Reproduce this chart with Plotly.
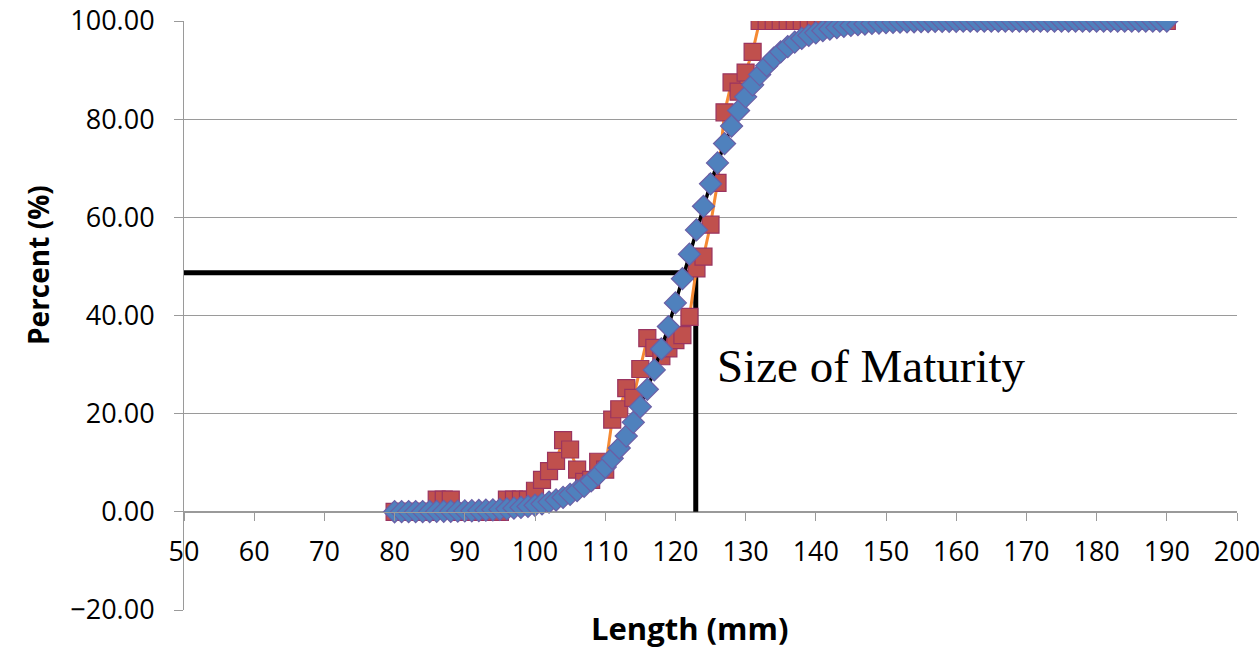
import plotly.graph_objects as go

# Length classes (mm)
lengths = [80, 81, 82, 83, 84, 85, 86, 87, 88, 89,
           90, 91, 92, 93, 94, 95, 96, 97, 98, 99,
           100, 101, 102, 103, 104, 105, 106, 107, 108, 109,
           110, 111, 112, 113, 114, 115, 116, 117, 118, 119,
           120, 121, 122, 123, 124, 125, 126, 127, 128, 129,
           130, 131, 132, 133, 134, 135, 136, 137, 138, 139,
           140, 141, 142, 143, 144, 145, 146, 147, 148, 149,
           150, 151, 152, 153, 154, 155, 156, 157, 158, 159,
           160, 161, 162, 163, 164, 165, 166, 167, 168, 169,
           170, 171, 172, 173, 174, 175, 176, 177, 178, 179,
           180, 181, 182, 183, 184, 185, 186, 187, 188, 189, 190]

# Observed percent mature (red squares)
observed_pct = [0, 0, 0, 0, 0, 0, 2.5, 2.5, 2.5, 0,
                0, 0, 0, 0, 0, 0, 2.5, 2.5, 2.5, 2.5,
                4.3, 6.5, 8.3, 10.4, 14.6, 12.7, 8.6, 6.1, 6.5, 10.2,
                8.6, 18.8, 20.9, 25.2, 23.2, 29.1, 35.4, 33.4, 31.7, 33.3,
                35.0, 36.0, 39.7, 49.6, 52.0, 58.5, 67.0, 81.4, 87.5, 85.6,
                89.5, 93.7, 100, 100, 100, 100, 100, 100, 100, 100,
                100, 100, 100, 100, 100, 100, 100, 100, 100, 100,
                100, 100, 100, 100, 100, 100, 100, 100, 100, 100,
                100, 100, 100, 100, 100, 100, 100, 100, 100, 100,
                100, 100, 100, 100, 100, 100, 100, 100, 100, 100,
                100, 100, 100, 100, 100, 100, 100, 100, 100, 100, 100]

# Fitted percent mature (blue diamonds)
fitted_pct = [0.02, 0.03, 0.04, 0.05, 0.06, 0.07, 0.08, 0.10, 0.12, 0.15,
              0.18, 0.22, 0.27, 0.33, 0.41, 0.50, 0.61, 0.74, 0.90, 1.10,
              1.34, 1.63, 1.98, 2.41, 2.93, 3.56, 4.31, 5.21, 6.29, 7.59,
              9.11, 10.91, 13.01, 15.45, 18.24, 21.41, 24.97, 28.91, 33.18, 37.75,
              42.56, 47.50, 52.50, 57.44, 62.25, 66.82, 71.09, 75.03, 78.59, 81.76,
              84.55, 86.99, 89.09, 90.89, 92.41, 93.71, 94.78, 95.69, 96.44, 97.07,
              97.59, 98.02, 98.37, 98.66, 98.90, 99.10, 99.26, 99.39, 99.50, 99.59,
              99.67, 99.73, 99.78, 99.82, 99.85, 99.88, 99.90, 99.92, 99.93, 99.95,
              99.95, 99.96, 99.97, 99.97, 99.98, 99.98, 99.98, 99.99, 99.99, 99.99,
              99.99, 99.99, 99.99, 100, 100, 100, 100, 100, 100, 100,
              100, 100, 100, 100, 100, 100, 100, 100, 100, 100, 100]

# Size at maturity reference
maturity_length = 122.9
maturity_pct = 48.7
axis_start = 50

x_ticks = [50, 60, 70, 80, 90, 100, 110, 120, 130, 140, 150, 160, 170, 180, 190, 200]
y_ticks = [-20, 0, 20, 40, 60, 80, 100]

tick_font = dict(family="Open Sans, DejaVu Sans, sans-serif", size=27, color="black")

fig = go.Figure()

fig.add_trace(go.Scatter(
    x=[axis_start, maturity_length, maturity_length],
    y=[maturity_pct, maturity_pct, 0],
    mode="lines",
    line=dict(color="black", width=5),
    hoverinfo="skip",
    showlegend=False,
))

fig.add_trace(go.Scatter(
    x=lengths, y=observed_pct,
    mode="lines+markers",
    line=dict(color="#F58A33", width=3),
    marker=dict(symbol="square", size=17, color="#C0504D",
                line=dict(color="#9A3460", width=1.2)),
    showlegend=False,
))

fig.add_trace(go.Scatter(
    x=lengths, y=fitted_pct,
    mode="lines+markers",
    line=dict(color="black", width=3.5),
    marker=dict(symbol="diamond", size=17, color="#4F81BD",
                line=dict(color="#6A5FA6", width=1.2)),
    showlegend=False,
))

fig.add_annotation(
    x=125.6, y=29.7, xref="x", yref="y",
    text="Size of Maturity", showarrow=False,
    xanchor="left", yanchor="middle",
    font=dict(family="Liberation Serif, Times New Roman, serif", size=47, color="black"),
)

fig.add_annotation(
    x=0.4805, y=-0.031, xref="paper", yref="paper",
    text="<b>Length (mm)</b>", showarrow=False,
    xanchor="center", yanchor="middle",
    font=dict(family="Open Sans, DejaVu Sans, sans-serif", size=31, color="black"),
)

fig.add_annotation(
    x=-0.1387, y=0.5857, xref="paper", yref="paper",
    text="<b>Percent (%)</b>", showarrow=False, textangle=-90,
    xanchor="center", yanchor="middle",
    font=dict(family="Open Sans, DejaVu Sans, sans-serif", size=28, color="black"),
)

fig.update_layout(
    width=1260, height=671,
    margin=dict(l=184, r=23, t=21, b=61, autoexpand=False),
    paper_bgcolor="white", plot_bgcolor="white",
    xaxis=dict(
        range=[50, 200], tickvals=x_ticks,
        showgrid=False, zeroline=False,
        showline=True, linecolor="#9A9A9A", linewidth=1,
        ticks="outside", ticklen=8, tickcolor="#9A9A9A",
        anchor="free", position=20 / 120,
        tickfont=tick_font, ticklabelstandoff=8,
        ticklabeloverflow="allow",
        automargin=False,
    ),
    yaxis=dict(
        range=[-20, 100], tickvals=y_ticks, tickformat=".2f",
        showgrid=True, gridcolor="#9A9A9A", gridwidth=1,
        zeroline=False,
        showline=True, linecolor="#9A9A9A", linewidth=1,
        ticks="outside", ticklen=9, tickcolor="#9A9A9A",
        tickfont=tick_font, ticklabelstandoff=14,
        ticklabeloverflow="allow",
        automargin=False,
    ),
)

fig.write_html("out.html")
